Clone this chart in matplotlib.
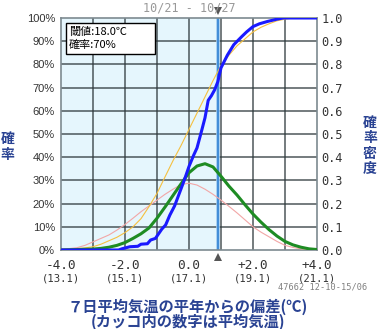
import numpy as np
import matplotlib
matplotlib.use("Agg")
import matplotlib.pyplot as plt
from matplotlib import transforms
from matplotlib.patches import Rectangle

# ---- data -------------------------------------------------------------
period_start = "10/21"
period_end = "10/27"
station_stamp = "47662 12-10-15/06"
normal_mean = 17.1          # 平年値 (℃)
threshold_temp = 18.0       # 閾値 (℃)
threshold_prob = 70         # 確率 (%)

# forecast cumulative probability (blue)
fc_cdf_x = [-4.0, -2.2, -2.1, -1.85, -1.6, -1.5, -1.3, -1.2, -1.05, -0.95, -0.85,
            -0.73, -0.6, -0.45, -0.3, -0.15, 0.0, 0.15, 0.25, 0.4, 0.5, 0.6, 0.7,
            0.8, 0.9, 1.0, 1.2, 1.4, 1.65, 1.8, 2.0, 2.2, 2.45, 2.75, 2.95, 4.0]
fc_cdf_y = [0.0, 0.0, 0.005, 0.014, 0.016, 0.025, 0.027, 0.043, 0.05, 0.07, 0.09,
            0.108, 0.15, 0.19, 0.245, 0.30, 0.36, 0.41, 0.44, 0.517, 0.57, 0.645, 0.665,
            0.69, 0.725, 0.785, 0.84, 0.885, 0.92, 0.94, 0.963, 0.975, 0.985, 0.995, 1.0, 1.0]

grid_x = [-4.0, -3.75, -3.5, -3.25, -3.0, -2.75, -2.5, -2.25, -2.0, -1.75, -1.5,
          -1.25, -1.0, -0.75, -0.5, -0.25, 0.0, 0.25, 0.5, 0.75, 1.0, 1.25, 1.5,
          1.75, 2.0, 2.25, 2.5, 2.75, 3.0, 3.25, 3.5, 3.75, 4.0]

# forecast probability density (green)
fc_pdf = [0.0, 0.001, 0.002, 0.003, 0.004, 0.007, 0.012, 0.02, 0.032, 0.05, 0.07,
          0.095, 0.137, 0.185, 0.235, 0.285, 0.333, 0.362, 0.372, 0.358, 0.318, 0.275,
          0.237, 0.195, 0.155, 0.12, 0.088, 0.06, 0.037, 0.022, 0.012, 0.005, 0.002]

# climatological probability density (pink)
cl_pdf = [0.004, 0.006, 0.01, 0.02, 0.035, 0.05, 0.065, 0.086, 0.11, 0.137, 0.165,
          0.19, 0.215, 0.24, 0.262, 0.282, 0.288, 0.28, 0.262, 0.24, 0.215, 0.188,
          0.16, 0.13, 0.10, 0.077, 0.057, 0.037, 0.02, 0.011, 0.005, 0.002, 0.001]

# climatological cumulative probability (yellow)
cl_cdf = [0.002, 0.004, 0.006, 0.009, 0.014, 0.025, 0.04, 0.055, 0.075, 0.10, 0.135,
          0.187, 0.244, 0.315, 0.385, 0.45, 0.52, 0.59, 0.66, 0.73, 0.795, 0.84,
          0.88, 0.91, 0.94, 0.96, 0.975, 0.988, 0.995, 1.0, 1.0, 1.0, 1.0]

x_ticks = [-4.0, -2.0, 0.0, 2.0, 4.0]
x_tick_labels = ["-4.0", "-2.0", "0.0", "+2.0", "+4.0"]
x_tick_temps = ["(13.1)", "(15.1)", "(17.1)", "(19.1)", "(21.1)"]
y_ticks = [0.0, 0.1, 0.2, 0.3, 0.4, 0.5, 0.6, 0.7, 0.8, 0.9, 1.0]

# ---- figure -----------------------------------------------------------
W, H = 378, 329
fig = plt.figure(figsize=(W / 100, H / 100), dpi=100)
fig.patch.set_facecolor("white")

jp = ["Noto Sans CJK JP", "DejaVu Sans"]
mono = "DejaVu Sans Mono"
navy = "#2a4393"
ink = "#333333"

ax = fig.add_axes([61 / W, 79 / H, 256 / W, 232 / H])
ax.set_xlim(-4, 4)
ax.set_ylim(0, 1)

thr = threshold_temp - normal_mean

# shaded region below threshold
ax.axvspan(-4, thr, color="#e5f6fd", zorder=0, lw=0)

# grid
for gx in np.arange(-3, 4, 1.0):
    ax.axvline(gx, color="#2f3a3e", lw=1.1, alpha=0.85, zorder=1)
for gy in y_ticks[1:-1]:
    ax.axhline(gy, color="#2f3a3e", lw=1.1, alpha=0.85, zorder=1)

# threshold line
ax.axvline(thr, color="#9ccaf0", lw=2.6, zorder=2)
ax.axvline(thr, color="#3a88d6", lw=1.3, zorder=2)

# curves
ax.plot(grid_x, cl_pdf, color="#f2a6a6", lw=0.8, zorder=3)
ax.plot(grid_x, cl_cdf, color="#f5c040", lw=0.8, zorder=3)
ax.plot(grid_x, fc_pdf, color="#1e8c23", lw=2.2, zorder=4, solid_capstyle="butt")
ax.plot(fc_cdf_x, fc_cdf_y, color="#1a1aff", lw=2.2, zorder=5, solid_capstyle="butt")

for s in ax.spines.values():
    s.set_color("#7d8a90")
    s.set_linewidth(1.2)

# left axis: probability
ax.set_yticks(y_ticks)
ax.set_yticklabels([f"{int(round(v * 100))}%" for v in y_ticks],
                   fontsize=8, family="Liberation Sans", color=ink)
ax.tick_params(axis="y", length=0, pad=4.3)

# bottom axis: anomaly with mean temperature underneath
ax.set_xticks(x_ticks)
ax.set_xticklabels(x_tick_labels, fontsize=9.2, family=mono, color=ink)
ax.tick_params(axis="x", length=0, pad=6.5)
bt = transforms.blended_transform_factory(ax.transData, fig.transFigure)
for xv, lab in zip(x_ticks, x_tick_temps):
    fig.text(xv, 1 - 278.5 / H, lab, transform=bt, ha="center",
             va="center", fontsize=7.6, family=mono, color=ink)

# right axis: probability density
ax2 = ax.twinx()
ax2.set_ylim(0, 1)
ax2.set_yticks(y_ticks)
ax2.set_yticklabels([f"{v:.1f}" for v in y_ticks], fontsize=8.6, family=mono, color=ink)
ax2.tick_params(axis="y", length=0, pad=3.4)
for s in ax2.spines.values():
    s.set_visible(False)

# threshold markers
ax.plot([thr], [1 - 11 / H], marker="v", ms=6, color="#555555", transform=bt,
        clip_on=False, zorder=6, mew=0)
ax.plot([thr], [1 - 256.5 / H], marker="^", ms=6, color="#555555", transform=bt,
        clip_on=False, zorder=6, mew=0)

# period title
fig.text(189 / W, 1 - 8 / H, f"{period_start} - {period_end}", ha="center",
         va="center", fontsize=8.5, family=mono, color="#999999", zorder=1)

# info box
ax.add_patch(Rectangle((5 / 256, (250 - 54) / 232), 89 / 256, 31 / 232,
                       transform=ax.transAxes, facecolor="white", edgecolor="black",
                       lw=1.0, zorder=7))
ax.text(8 / 256, (250 - 32) / 232, f"閾値:{threshold_temp:.1f}℃", transform=ax.transAxes,
        ha="left", va="center", fontsize=8, family=jp, color="black", zorder=8)
ax.text(8 / 256, (250 - 44.5) / 232, f"確率:{threshold_prob}%", transform=ax.transAxes,
        ha="left", va="center", fontsize=8, family=jp, color="black", zorder=8)

# axis titles
fig.text(7.5 / W, 1 - 147 / H, "確\n率", ha="center", va="center", fontsize=10,
         family=jp, weight="bold", color=navy, linespacing=1.2)
fig.text(370 / W, 1 - 146 / H, "確\n率\n密\n度", ha="center", va="center", fontsize=10,
         family=jp, weight="bold", color=navy, linespacing=1.15)
fig.text(188 / W, 1 - 307 / H, "７日平均気温の平年からの偏差(℃)", ha="center", va="center",
         fontsize=11, family=jp, weight="bold", color=navy)
fig.text(188 / W, 1 - 322 / H, "(カッコ内の数字は平均気温)", ha="center", va="center",
         fontsize=11, family=jp, weight="bold", color=navy)

# station / issue stamp
fig.text(367 / W, 1 - 287 / H, station_stamp, ha="right", va="center", fontsize=6.2,
         family=mono, color="#808080")

fig.savefig("out.png", dpi=100)
